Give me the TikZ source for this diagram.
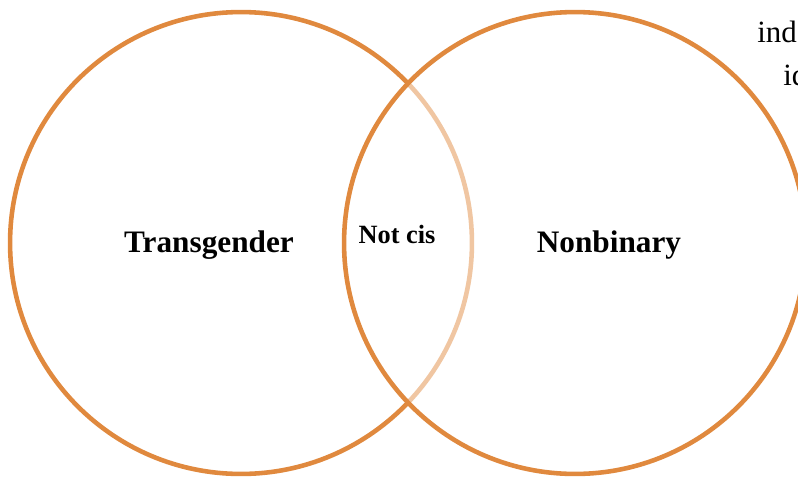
\documentclass[tikz,border=0pt]{standalone}
\usepackage{fontspec}
\setmainfont{Liberation Serif}
\usetikzlibrary{positioning}
\definecolor{vnorange}{HTML}{E0893E}

\begin{document}
\begin{tikzpicture}[x=0.02cm,y=-0.02cm,
    ring/.style={line width=2.6pt,vnorange},
    setlabel/.style={font=\fontsize{17.8}{21}\selectfont\bfseries,inner sep=0pt}]
    \useasboundingbox (0,0) rectangle (798,477);
    \clip (0,0) rectangle (798,477);
    % texto cortado arriba a la derecha
    \node[anchor=base west,inner sep=0pt,font=\fontsize{17.6}{21}\selectfont] (cut1) at (757,42) {ind};
    \node[anchor=base west,inner sep=0pt,font=\fontsize{17.6}{21}\selectfont] (cut2) at (783,85) {id};
    % circulo izquierdo
    \draw[ring] (241,243) circle[radius=4.62cm];
    % circulo derecho, tapa un poco el arco de la izquierda
    \fill[white,opacity=0.52] (575,243) circle[radius=4.62cm];
    \draw[ring] (575,243) circle[radius=4.62cm];
    \node[setlabel] (trans) at (209,245) {Transgender};
    \node[setlabel,font=\fontsize{15}{18}\selectfont\bfseries] (notcis) at (397,234) {Not cis};
    \node[setlabel] (nonbin) at (609,245) {Nonbinary};
\end{tikzpicture}
\end{document}
